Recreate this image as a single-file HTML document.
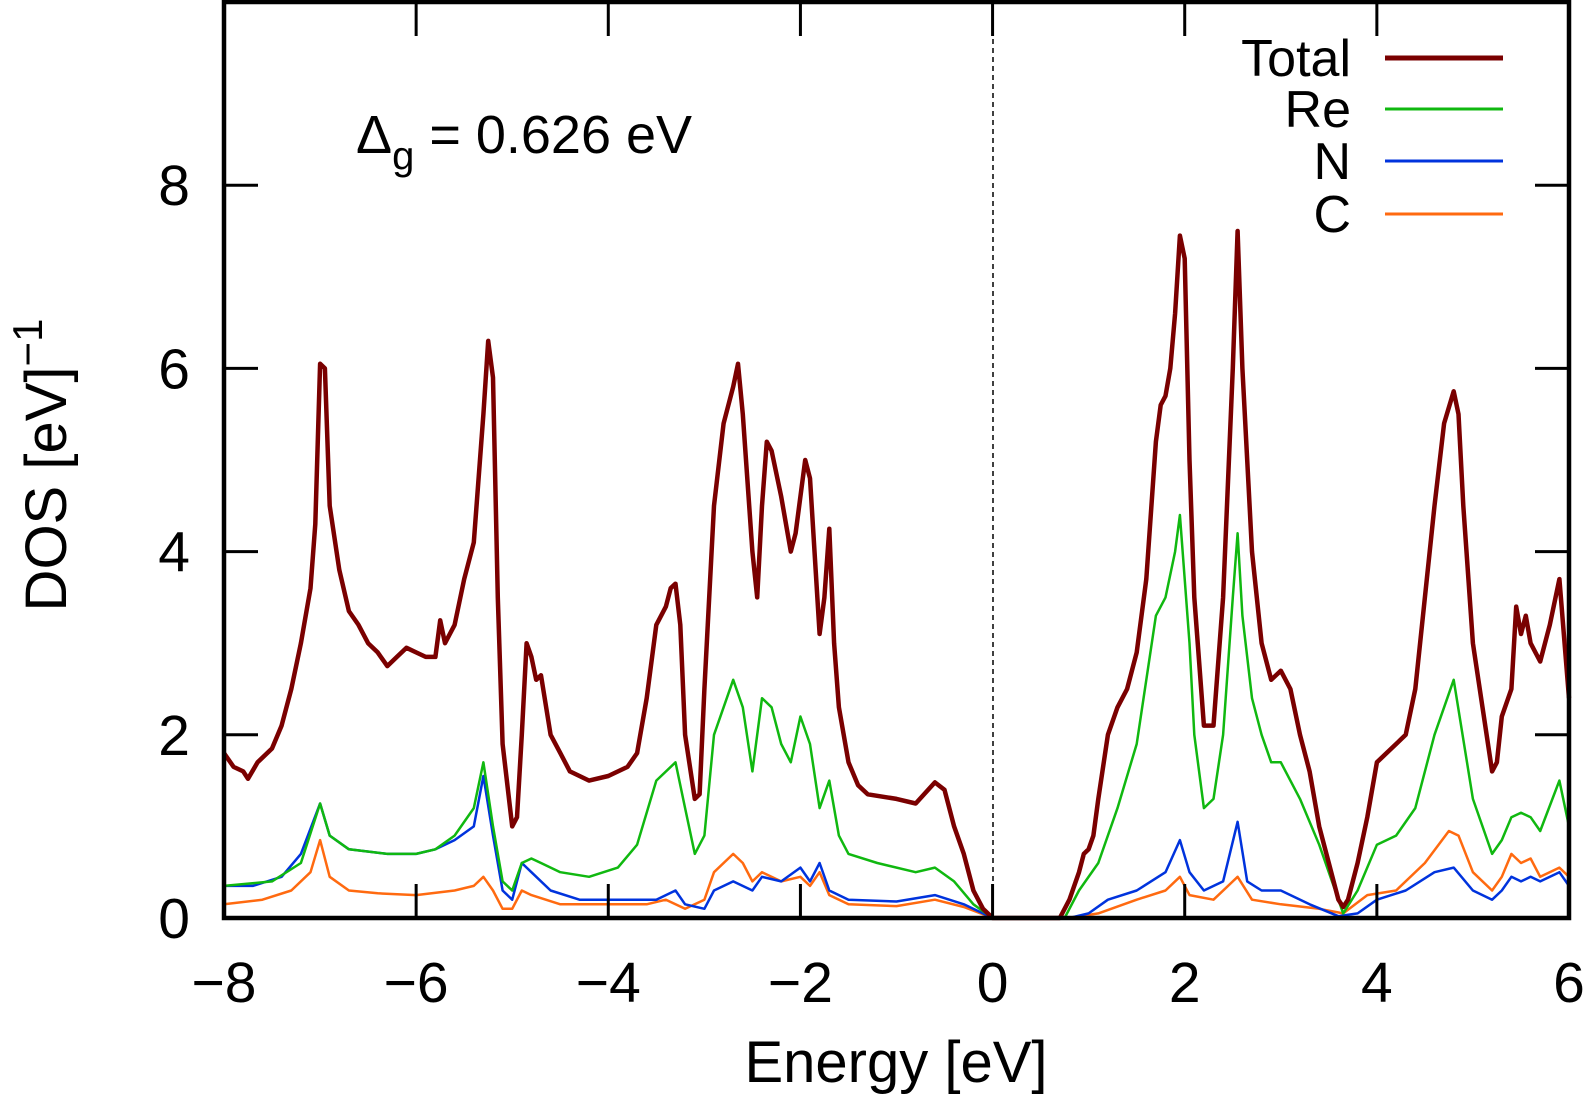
<!DOCTYPE html>
<html><head><meta charset="utf-8"><style>
body{margin:0;background:#fff;}
svg{display:block;font-family:"Liberation Sans",sans-serif;}
</style></head><body>
<svg id="chart" width="1583" height="1101">
<line x1="993" y1="3" x2="993" y2="918" stroke="#000" stroke-width="1.5" stroke-dasharray="5,4"/>
<g id="series"></g>
<g id="axes"></g>
<text x="356" y="153" font-size="54">Δ<tspan font-size="40" dy="16">g</tspan><tspan dy="-16"> = 0.626 eV</tspan></text>
<text x="896" y="1082" font-size="58" text-anchor="middle">Energy [eV]</text>
<text transform="translate(66,465) rotate(-90)" font-size="58" text-anchor="middle">DOS [eV]<tspan font-size="42" dy="-24">−1</tspan></text>
<g id="legend"></g>
</svg>
<script>
const xTicks=[-8,-6,-4,-2,0,2,4,6];
const yTicks=[0,2,4,6,8];
const xTickLabels=["−8","−6","−4","−2","0","2","4","6"];
const yTickLabels=["0","2","4","6","8"];
const seriesNames=["Total","Re","N","C"];
const seriesColors=["#7a0000","#10b810","#0033dd","#ff6a10"];
const totalData=[[-8,1.8],[-7.9,1.65],[-7.8,1.6],[-7.75,1.52],[-7.65,1.7],[-7.5,1.85],[-7.4,2.1],[-7.3,2.5],[-7.2,3.0],[-7.1,3.6],[-7.05,4.3],[-7.0,6.05],[-6.95,6.0],[-6.9,4.5],[-6.8,3.8],[-6.7,3.35],[-6.6,3.2],[-6.5,3.0],[-6.4,2.9],[-6.3,2.75],[-6.2,2.85],[-6.1,2.95],[-6.0,2.9],[-5.9,2.85],[-5.8,2.85],[-5.75,3.25],[-5.7,3.0],[-5.6,3.2],[-5.5,3.7],[-5.4,4.1],[-5.3,5.5],[-5.25,6.3],[-5.2,5.9],[-5.15,3.5],[-5.1,1.9],[-5.0,1.0],[-4.95,1.1],[-4.9,2.0],[-4.85,3.0],[-4.8,2.85],[-4.75,2.6],[-4.7,2.65],[-4.6,2.0],[-4.5,1.8],[-4.4,1.6],[-4.2,1.5],[-4.0,1.55],[-3.8,1.65],[-3.7,1.8],[-3.6,2.4],[-3.5,3.2],[-3.4,3.4],[-3.35,3.6],[-3.3,3.65],[-3.25,3.2],[-3.2,2.0],[-3.1,1.3],[-3.05,1.35],[-3.0,2.5],[-2.9,4.5],[-2.8,5.4],[-2.7,5.8],[-2.65,6.05],[-2.6,5.5],[-2.5,4.0],[-2.45,3.5],[-2.4,4.5],[-2.35,5.2],[-2.3,5.1],[-2.2,4.6],[-2.1,4.0],[-2.05,4.2],[-1.95,5.0],[-1.9,4.8],[-1.8,3.1],[-1.75,3.5],[-1.7,4.25],[-1.65,3.0],[-1.6,2.3],[-1.5,1.7],[-1.4,1.45],[-1.3,1.35],[-1.0,1.3],[-0.8,1.25],[-0.6,1.48],[-0.5,1.4],[-0.4,1.0],[-0.3,0.7],[-0.2,0.3],[-0.1,0.1],[0,0],[0.7,0],[0.8,0.2],[0.9,0.5],[0.95,0.7],[1.0,0.75],[1.05,0.9],[1.1,1.3],[1.2,2.0],[1.3,2.3],[1.4,2.5],[1.5,2.9],[1.6,3.7],[1.7,5.2],[1.75,5.6],[1.8,5.7],[1.85,6.0],[1.9,6.6],[1.95,7.45],[2.0,7.2],[2.05,5.0],[2.1,3.5],[2.2,2.1],[2.3,2.1],[2.4,3.5],[2.5,6.0],[2.55,7.5],[2.6,6.0],[2.7,4.0],[2.8,3.0],[2.9,2.6],[3.0,2.7],[3.1,2.5],[3.2,2.0],[3.3,1.6],[3.4,1.0],[3.5,0.6],[3.6,0.2],[3.65,0.12],[3.7,0.2],[3.8,0.6],[3.9,1.1],[4.0,1.7],[4.1,1.8],[4.2,1.9],[4.3,2.0],[4.4,2.5],[4.5,3.5],[4.6,4.5],[4.7,5.4],[4.8,5.75],[4.85,5.5],[4.9,4.5],[5.0,3.0],[5.1,2.3],[5.2,1.6],[5.25,1.7],[5.3,2.2],[5.4,2.5],[5.45,3.4],[5.5,3.1],[5.55,3.3],[5.6,3.0],[5.7,2.8],[5.8,3.2],[5.9,3.7],[6.0,2.4]];
const reData=[[-8,0.35],[-7.5,0.4],[-7.2,0.6],[-7.0,1.25],[-6.9,0.9],[-6.7,0.75],[-6.3,0.7],[-6,0.7],[-5.8,0.75],[-5.6,0.9],[-5.4,1.2],[-5.3,1.7],[-5.2,1.0],[-5.1,0.4],[-5.0,0.3],[-4.9,0.6],[-4.8,0.65],[-4.7,0.6],[-4.5,0.5],[-4.2,0.45],[-3.9,0.55],[-3.7,0.8],[-3.5,1.5],[-3.3,1.7],[-3.2,1.2],[-3.1,0.7],[-3.0,0.9],[-2.9,2.0],[-2.8,2.3],[-2.7,2.6],[-2.6,2.3],[-2.5,1.6],[-2.4,2.4],[-2.3,2.3],[-2.2,1.9],[-2.1,1.7],[-2.0,2.2],[-1.9,1.9],[-1.8,1.2],[-1.7,1.5],[-1.6,0.9],[-1.5,0.7],[-1.2,0.6],[-0.8,0.5],[-0.6,0.55],[-0.4,0.4],[-0.2,0.15],[0,0],[0.75,0],[0.9,0.3],[1.1,0.6],[1.3,1.2],[1.5,1.9],[1.7,3.3],[1.8,3.5],[1.9,4.0],[1.95,4.4],[2.05,3.0],[2.1,2.0],[2.2,1.2],[2.3,1.3],[2.4,2.0],[2.5,3.5],[2.55,4.2],[2.6,3.3],[2.7,2.4],[2.8,2.0],[2.9,1.7],[3.0,1.7],[3.2,1.3],[3.4,0.8],[3.6,0.2],[3.65,0.05],[3.8,0.3],[4.0,0.8],[4.2,0.9],[4.4,1.2],[4.6,2.0],[4.8,2.6],[5.0,1.3],[5.2,0.7],[5.3,0.85],[5.4,1.1],[5.5,1.15],[5.6,1.1],[5.7,0.95],[5.9,1.5],[6.0,1.0]];
const nData=[[-8,0.35],[-7.7,0.35],[-7.4,0.45],[-7.2,0.7],[-7.0,1.25],[-6.9,0.9],[-6.7,0.75],[-6.3,0.7],[-6.0,0.7],[-5.8,0.75],[-5.6,0.85],[-5.4,1.0],[-5.3,1.55],[-5.2,0.9],[-5.1,0.3],[-5.0,0.2],[-4.9,0.6],[-4.8,0.5],[-4.6,0.3],[-4.3,0.2],[-3.8,0.2],[-3.5,0.2],[-3.3,0.3],[-3.2,0.15],[-3.0,0.1],[-2.9,0.3],[-2.7,0.4],[-2.5,0.3],[-2.4,0.45],[-2.2,0.4],[-2.0,0.55],[-1.9,0.4],[-1.8,0.6],[-1.7,0.3],[-1.5,0.2],[-1.0,0.18],[-0.6,0.25],[-0.3,0.15],[0,0],[0.8,0],[1.0,0.05],[1.2,0.2],[1.5,0.3],[1.8,0.5],[1.95,0.85],[2.05,0.5],[2.2,0.3],[2.4,0.4],[2.55,1.05],[2.65,0.4],[2.8,0.3],[3.0,0.3],[3.3,0.15],[3.6,0.02],[3.8,0.05],[4.0,0.2],[4.3,0.3],[4.6,0.5],[4.8,0.55],[5.0,0.3],[5.2,0.2],[5.3,0.3],[5.4,0.45],[5.5,0.4],[5.6,0.45],[5.7,0.4],[5.9,0.5],[6.0,0.35]];
const cData=[[-8,0.15],[-7.6,0.2],[-7.3,0.3],[-7.1,0.5],[-7.0,0.85],[-6.9,0.45],[-6.7,0.3],[-6.4,0.27],[-6,0.25],[-5.6,0.3],[-5.4,0.35],[-5.3,0.45],[-5.2,0.3],[-5.1,0.1],[-5.0,0.1],[-4.9,0.3],[-4.8,0.25],[-4.5,0.15],[-4,0.15],[-3.6,0.15],[-3.4,0.2],[-3.2,0.1],[-3.0,0.2],[-2.9,0.5],[-2.7,0.7],[-2.6,0.6],[-2.5,0.4],[-2.4,0.5],[-2.2,0.4],[-2.0,0.45],[-1.9,0.35],[-1.8,0.5],[-1.7,0.25],[-1.5,0.15],[-1.0,0.13],[-0.6,0.2],[-0.3,0.12],[0,0],[0.8,0],[1.1,0.05],[1.5,0.2],[1.8,0.3],[1.95,0.45],[2.05,0.25],[2.3,0.2],[2.5,0.4],[2.55,0.45],[2.7,0.2],[3.0,0.15],[3.4,0.1],[3.65,0.05],[3.9,0.25],[4.2,0.3],[4.5,0.6],[4.75,0.95],[4.85,0.9],[5.0,0.5],[5.2,0.3],[5.3,0.45],[5.4,0.7],[5.5,0.6],[5.6,0.65],[5.7,0.45],[5.9,0.55],[6.0,0.45]];

const L=224,R=1569,T=2,B=918,xMin=-8,xMax=6,yMin=0,yMax=10;
function sx(v){return L+(v-xMin)/(xMax-xMin)*(R-L);}
function sy(v){return B-(v-yMin)/(yMax-yMin)*(B-T);}
const NS="http://www.w3.org/2000/svg";
function mk(tag,attrs,parent){const e=document.createElementNS(NS,tag);for(const k in attrs)e.setAttribute(k,attrs[k]);parent.appendChild(e);return e;}

const sg=document.getElementById('series');
const allData=[cData,nData,reData,totalData];
const order=[3,2,1,0];
const widths=[4.5,2.5,2.5,2.5];
const names=["total-dos-line","re-dos-line","n-dos-line","c-dos-line"];
order.forEach((si,k)=>{
  const d=allData[k].map((p,i)=>(i?'L':'M')+sx(p[0]).toFixed(1)+','+sy(p[1]).toFixed(1)).join('');
  const p=mk('path',{d:d,fill:'none',stroke:seriesColors[si],'stroke-width':widths[si],'stroke-linejoin':'round'},sg);
  
  
});

const ax=document.getElementById('axes');
xTicks.forEach((t,i)=>{
  const x=sx(t);
  const a=mk('line',{x1:x,y1:B,x2:x,y2:B-34,stroke:'#000','stroke-width':3},ax);
  
  
  const b=mk('line',{x1:x,y1:T,x2:x,y2:T+34,stroke:'#000','stroke-width':3},ax);
  
  
  const tx=mk('text',{x:x,y:1002,'font-size':57,'text-anchor':'middle'},ax);
  tx.textContent=xTickLabels[i];
  
  
});
yTicks.forEach((t,i)=>{
  const y=sy(t);
  const a=mk('line',{x1:L,y1:y,x2:L+34,y2:y,stroke:'#000','stroke-width':3},ax);
  
  
  const b=mk('line',{x1:R,y1:y,x2:R-34,y2:y,stroke:'#000','stroke-width':3},ax);
  
  
  const tx=mk('text',{x:190,y:y+20,'font-size':57,'text-anchor':'end'},ax);
  tx.textContent=yTickLabels[i];
  
  
});
const fr=mk('rect',{x:L,y:T,width:R-L,height:B-T,fill:'none',stroke:'#000','stroke-width':4.5},ax);



const lg=document.getElementById('legend');
const legY=[58,109,161,214];
seriesNames.forEach((n,i)=>{
  const t=mk('text',{x:1351,y:legY[i]+18,'font-size':52,'text-anchor':'end'},lg);
  t.textContent=n;
  
  
  const l=mk('line',{x1:1385,y1:legY[i],x2:1503,y2:legY[i],stroke:seriesColors[i],'stroke-width':i?3:5},lg);
  
  
});
</script>
</body></html>
